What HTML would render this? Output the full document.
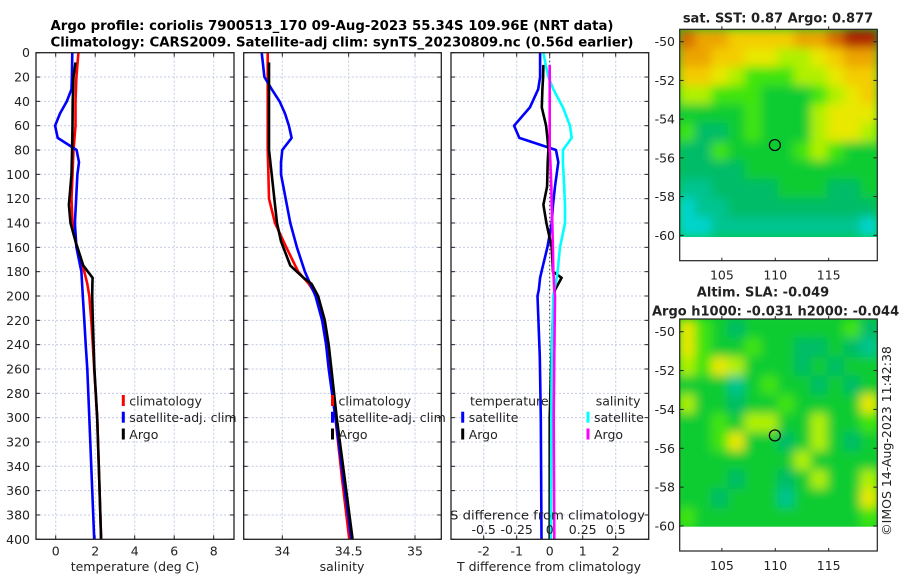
<!DOCTYPE html>
<html><head><meta charset="utf-8"><style>
html,body{margin:0;padding:0;background:#fff;}
svg{display:block;font-family:"DejaVu Sans","Liberation Sans",sans-serif;}
</style></head><body>
<svg id="fig" width="900" height="580" viewBox="0 0 900 580" xmlns="http://www.w3.org/2000/svg">
<defs>
<filter id="blur" x="-5%" y="-5%" width="110%" height="110%"><feGaussianBlur stdDeviation="5"/></filter>
<clipPath id="clipSST"><rect x="679.7" y="29.3" width="197.6" height="207.7"/></clipPath>
<clipPath id="clipSLA"><rect x="679.7" y="319" width="197.6" height="207.7"/></clipPath>
</defs>
<text x="50.5" y="30" font-size="13" font-weight="bold" textLength="563" lengthAdjust="spacingAndGlyphs">Argo profile: coriolis 7900513_170 09-Aug-2023 55.34S 109.96E (NRT data)</text>
<text x="50.5" y="46.5" font-size="13" font-weight="bold" textLength="583" lengthAdjust="spacingAndGlyphs">Climatology: CARS2009. Satellite-adj clim: synTS_20230809.nc (0.56d earlier)</text>
<g id="plots"></g>
</svg>
<script>
// ---------- profile data ----------
const depthClim = [0,10,20,40,60,80,100,120,140,160,180,190,200,220,240,260,300,350,400];
const tempClim = [1.15,1.1,1.05,1.0,1.0,0.9,0.85,0.8,0.85,1.06,1.45,1.6,1.7,1.8,1.88,1.95,2.1,2.2,2.3];
const salClim = [33.89,33.89,33.89,33.89,33.89,33.89,33.895,33.90,33.945,34.03,34.12,34.2,34.26,34.31,34.34,34.36,34.40,34.45,34.505];
const depthArgo = [8,20,40,60,80,100,125,140,155,175,185,190,200,220,240,260,300,350,400];
const tempArgo = [1.0,0.9,0.86,0.85,0.83,0.8,0.67,0.75,1.0,1.4,1.87,1.86,1.85,1.88,1.92,1.96,2.1,2.2,2.3];
const salArgo = [33.9,33.9,33.9,33.9,33.9,33.92,33.945,33.96,33.99,34.06,34.16,34.22,34.27,34.32,34.35,34.37,34.41,34.47,34.53];
const depthSat = [0,20,30,40,50,60,70,80,90,100,140,160,180,200,220,240,260,300,400];
const tempSat = [0.84,0.82,0.8,0.56,0.22,-0.03,0.1,1.06,1.18,1.1,0.97,1.05,1.3,1.37,1.45,1.52,1.6,1.7,1.95];
const salSat = [33.845,33.865,33.92,33.98,34.02,34.05,34.07,34.0,33.99,33.99,34.06,34.11,34.17,34.25,34.3,34.33,34.35,34.40,34.52];
const depthDiff = [0,10,20,30,45,60,70,80,90,110,125,140,160,180,185,195,200,250,300,400];
const dTempSat = [-0.29,-0.29,-0.29,-0.35,-0.6,-1.08,-0.92,0.19,0.26,0.16,0.1,0.06,-0.07,-0.25,-0.29,-0.33,-0.37,-0.3,-0.27,-0.25];
const dTempArgo = [null,-0.19,-0.2,-0.22,-0.24,-0.11,-0.07,-0.04,-0.06,-0.08,-0.19,-0.1,0.06,0.1,0.36,0.16,0.12,0.05,0.0,0.0];
const dSalSat = [-0.048,-0.03,-0.01,0.027,0.10,0.154,0.167,0.10,0.10,0.11,0.116,0.116,0.078,0.06,0.053,0.035,0.027,0.015,0.012,0.01];
const dSalArgo = [null,0,0,0,0,0,0,0,0.005,0.012,0.015,0.02,0.024,0.027,0.03,0.035,0.04,0.035,0.03,0.035];
const depthTicks = [0,20,40,60,80,100,120,140,160,180,200,220,240,260,280,300,320,340,360,380,400];
const tempTicks = [0,2,4,6,8];
const salTicks = [34,34.5,35];
const salTickLabels = ["34","34.5","35"];
const diffTTicks = [-2,-1,0,1,2];
const diffSTicks = [-0.5,-0.25,0,0.25,0.5];
const diffSLabels = ["-0.5","-0.25","0","0.25","0.5"];
// ---------- map data (colour class per cell, rows north->south) ----------
const mapLons = [101,102.55,104.1,105.65,107.2,108.75,110.3,111.85,113.4,114.95,116.5,118.05];
const mapLats = [-49.4,-50.37,-51.34,-52.31,-53.28,-54.25,-55.22,-56.19,-57.16,-58.13,-59.1];
const sstClass = [
[9,8,8,7,7,7,7,8,8,9,10,10],
[8,8,7,7,6,6,5,5,6,7,8,8],
[7,7,6,5,4,4,4,5,5,6,7,7],
[5,5,4,4,4,3,3,3,4,5,6,7],
[3,3,3,3,4,3,3,3,5,6,6,6],
[4,2,2,3,4,3,3,3,5,6,6,5],
[2,2,4,3,3,3,3,4,5,4,3,3],
[2,2,2,2,3,3,3,3,3,3,3,3],
[1,1,2,2,2,2,3,3,3,2,2,3],
[0,1,1,2,2,2,2,2,2,2,2,2],
[0,0,1,1,1,1,1,1,1,1,1,0]];
const slaClass = [
[6,4,3,2,3,3,3,3,3,3,4,2],
[6,4,3,3,4,3,3,2,2,3,2,1],
[5,4,6,5,3,3,3,2,3,2,3,3],
[3,3,3,1,3,4,3,3,2,3,2,3],
[5,3,3,2,3,3,4,3,3,3,3,6],
[3,3,4,3,5,5,3,3,5,3,3,4],
[3,3,4,6,3,3,2,3,5,3,2,3],
[3,3,3,3,3,3,3,5,3,3,3,3],
[3,3,3,2,3,3,2,3,5,3,3,5],
[3,3,2,3,3,3,1,3,3,3,3,6],
[4,3,3,3,3,3,3,3,3,3,3,4]];
const palette = ["#00d4cc","#00c490","#00bc68","#08cc30","#40e410","#b0f000","#e8e800","#f4cc00","#eca400","#d86c00","#b02000"];
const mapLatTicks = [-50,-52,-54,-56,-58,-60];
const mapLonTicks = [105,110,115];
const argoLon = 109.96, argoLat = -55.34;

const NS = "http://www.w3.org/2000/svg";
const root = document.getElementById('plots');
function mk(tag, attrs, parent){ const e=document.createElementNS(NS,tag); for(const k in attrs) e.setAttribute(k,attrs[k]); (parent||root).appendChild(e); return e; }

const Y0 = 52.7, YS = 1.2165;
function yDepth(d){ return Y0 + d*YS; }
const TOP = yDepth(0), BOT = yDepth(400);

function panel(name, left, right, xfun, gridVals){
  const g = mk('g',{});
  
  
  mk('rect',{x:left,y:TOP,width:right-left,height:BOT-TOP,fill:'#fff'},g);
  gridVals.forEach(v=>{ const x=xfun(v);
    const l=mk('line',{x1:x,x2:x,y1:TOP,y2:BOT,stroke:'#c4cbe6','stroke-width':1,'stroke-dasharray':'2,2'},g);
    
    
    mk('line',{x1:x,x2:x,y1:TOP,y2:TOP+4,stroke:'#222'},g);
    mk('line',{x1:x,x2:x,y1:BOT,y2:BOT-4,stroke:'#222'},g);
  });
  depthTicks.forEach(d=>{ const y=yDepth(d);
    if(d>0&&d<400){ const l=mk('line',{x1:left,x2:right,y1:y,y2:y,stroke:'#c4cbe6','stroke-width':1,'stroke-dasharray':'2,2'},g);
    
     }
    mk('line',{x1:left,x2:left+4,y1:y,y2:y,stroke:'#222'},g);
    mk('line',{x1:right,x2:right-4,y1:y,y2:y,stroke:'#222'},g);
  });
  return g;
}
function frame(left,right){ const r=mk('rect',{x:left,y:TOP,width:right-left,height:BOT-TOP,fill:'none',stroke:'#222','stroke-width':1.3});
  
   }
function series(name, depths, vals, xfun, color, w){
  const pts=[]; depths.forEach((d,i)=>{ if(vals[i]!==null) pts.push(xfun(vals[i]).toFixed(1)+','+yDepth(d).toFixed(1)); });
  const p=mk('polyline',{points:pts.join(' '),fill:'none',stroke:color,'stroke-width':w||2.6,'stroke-linejoin':'round'});
  
  
}
function txt(s,x,y,attrs,name){ const t=mk('text',Object.assign({x:x,y:y,'font-size':12.5,fill:'#222'},attrs||{})); t.textContent=s;
  
   return t; }
function legendItem(label,x,y,color){
  const m=mk('line',{x1:x,x2:x,y1:y-6,y2:y+5,stroke:color,'stroke-width':3});
  
  
  txt(label,x+6,y+4.5,{},'legend-entry');
}

depthTicks.forEach(d=>txt(String(d),30,yDepth(d)+4.5,{'text-anchor':'end'},'y-tick-label'));

// Panel 1: temperature
const xT = v => 55.7 + v*19.75;
panel('temperature-panel',36,234,xT,tempTicks);
series('temp-climatology',depthClim,tempClim,xT,'#ff0000');
series('temp-satellite-adj',depthSat,tempSat,xT,'#0000ff');
series('temp-argo',depthArgo,tempArgo,xT,'#000000');
frame(36,234);
tempTicks.forEach(v=>txt(String(v),xT(v),555.5,{'text-anchor':'middle'},'x-tick-label'));
txt('temperature (deg C)',135,571,{'text-anchor':'middle'},'x-axis-title');
legendItem('climatology',123.3,401,'#ff0000');
legendItem('satellite-adj. clim',123.3,417.7,'#0000ff');
legendItem('Argo',123.3,434.5,'#000000');

// Panel 2: salinity
const xS = v => 282.3 + (v-34)*132.7;
panel('salinity-panel',243.7,441.3,xS,salTicks);
series('sal-climatology',depthClim,salClim,xS,'#ff0000');
series('sal-satellite-adj',depthSat,salSat,xS,'#0000ff');
series('sal-argo',depthArgo,salArgo,xS,'#000000');
frame(243.7,441.3);
salTicks.forEach((v,i)=>txt(salTickLabels[i],xS(v),555.5,{'text-anchor':'middle'},'x-tick-label'));
txt('salinity',342,571,{'text-anchor':'middle'},'x-axis-title');
legendItem('climatology',332.5,401,'#ff0000');
legendItem('satellite-adj. clim',332.5,417.7,'#0000ff');
legendItem('Argo',332.5,434.5,'#000000');

// Panel 3: differences
const xD = v => 549.7 + v*33;
const xDS = v => 549.7 + v*132;
panel('difference-panel',451,648.7,xD,diffTTicks);
const zl=mk('line',{x1:xD(0),x2:xD(0),y1:TOP,y2:BOT,stroke:'#333','stroke-width':1,'stroke-dasharray':'1.5,2.5'});


series('tdiff-satellite',depthDiff,dTempSat,xD,'#0000ff');
series('tdiff-argo',depthDiff,dTempArgo,xD,'#000000');
series('sdiff-satellite',depthDiff,dSalSat,xDS,'#00ffff');
series('sdiff-argo',depthDiff,dSalArgo,xDS,'#ff00ff');
frame(451,648.7);
diffTTicks.forEach(v=>txt(String(v),xD(v),555.5,{'text-anchor':'middle'},'x-tick-label'));
txt('T difference from climatology',549,571,{'text-anchor':'middle'},'x-axis-title');
txt('S difference from climatology',547.5,519.5,{'text-anchor':'middle',textLength:195,lengthAdjust:'spacingAndGlyphs'},'s-axis-title');
diffSTicks.forEach((v,i)=>txt(diffSLabels[i],xDS(v),534,{'text-anchor':'middle'},'s-tick-label'));
txt('temperature',470,405.5,{},'legend-title');
legendItem('satellite',462.7,417.7,'#0000ff');
legendItem('Argo',462.7,434.5,'#000000');
txt('salinity',595.7,405.5,{},'legend-title');
legendItem('satellite',588,417.7,'#00ffff');
legendItem('Argo',588,434.5,'#ff00ff');

// ---------- maps ----------
const LON0=101.05, LONS=10.68;
function xLon(l){ return 679.7 + (l-LON0)*LONS; }
function drawMap(name, grid, yLat, clipId, boxTop, boxBot, dataBot){
  const g=mk('g',{});
  
  
  const cg=mk('g',{'clip-path':'url(#'+clipId+')'},g);
  mk('rect',{x:679.7,y:boxTop,width:197.6,height:dataBot-boxTop,fill:palette[3]},cg);
  const bg=mk('g',{filter:'url(#blur)'},cg);
  grid.forEach((row,r)=>row.forEach((c,k)=>{
    const x=xLon(mapLons[k]), y=yLat(mapLats[r]);
    const w=xLon(mapLons[k]+1.55)-x, h=yLat(mapLats[r]-0.97)-y;
    const cell=mk('rect',{x:x-1,y:y-1,width:w+2,height:h+2,fill:palette[c]},bg);
    
    
  }));
  const fr=mk('rect',{x:679.7,y:boxTop,width:197.6,height:boxBot-boxTop,fill:'none',stroke:'#222','stroke-width':1.2},g);
  
  
  mapLatTicks.forEach(l=>{ const y=yLat(l);
    mk('line',{x1:679.7,x2:683.7,y1:y,y2:y,stroke:'#222'},g);
    mk('line',{x1:877.3,x2:873.3,y1:y,y2:y,stroke:'#222'},g);
    txt(String(l),675,y+4.5,{'text-anchor':'end'},'map-lat-label'); });
  mapLonTicks.forEach(l=>{ const x=xLon(l);
    mk('line',{x1:x,x2:x,y1:boxTop,y2:boxTop-3,stroke:'#222'},g);
    mk('line',{x1:x,x2:x,y1:boxBot,y2:boxBot-3,stroke:'#222'},g);
    txt(String(l),x,boxBot+19,{'text-anchor':'middle'},'map-lon-label'); });
  const c=mk('circle',{cx:xLon(argoLon),cy:yLat(argoLat),r:5.5,fill:'none',stroke:'#000','stroke-width':1.2},g);
  
  
}
const yLatTop = l => 41.7 + (-50-l)*19.36;
const yLatBot = l => 331.7 + (-50-l)*19.43;
drawMap('sst-map',sstClass,yLatTop,'clipSST',29.3,260.7,237);
drawMap('sla-map',slaClass,yLatBot,'clipSLA',319,551,526.7);
txt('sat. SST: 0.87 Argo: 0.877',778,22.5,{'text-anchor':'middle','font-weight':'bold','font-size':13},'sst-map-title');
txt('Altim. SLA: -0.049',763,296.5,{'text-anchor':'middle','font-weight':'bold','font-size':13},'sla-map-title');
txt('Argo h1000: -0.031 h2000: -0.044',652,315.5,{'font-weight':'bold','font-size':13},'sla-map-subtitle');
txt('©IMOS 14-Aug-2023 11:42:38',0,0,{'text-anchor':'middle',transform:'translate(891,441) rotate(-90)'},'copyright-timestamp');
</script>
</body></html>
